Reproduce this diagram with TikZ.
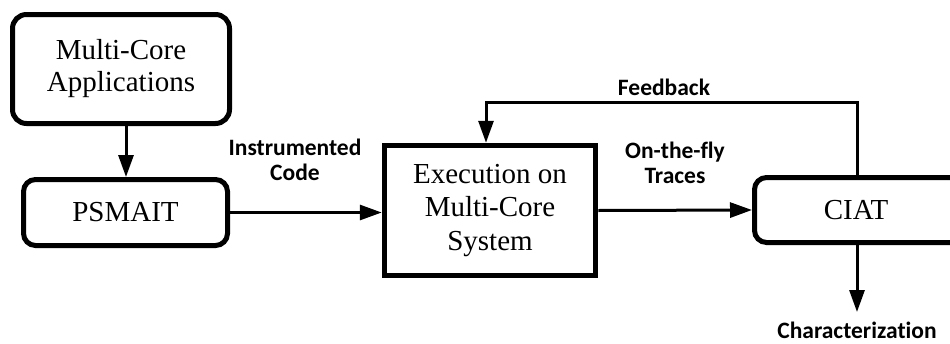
\documentclass[tikz,border=0pt]{standalone}
\usepackage{fontspec}
\setmainfont{Liberation Serif}
\newfontfamily\labelfont[BoldFont={Carlito Bold},Ligatures={NoCommon}]{Carlito}
\usetikzlibrary{arrows.meta}
\begin{document}
\begin{tikzpicture}[x=1pt,y=-1pt,
  roundbox/.style={draw,line width=5pt,rounded corners=14pt,align=center,
    font=\fontsize{29}{32}\selectfont,inner sep=0pt},
  sharpbox/.style={draw,line width=5.5pt,align=center,
    font=\fontsize{29}{33.5}\selectfont,inner sep=0pt},
  arr/.style={line width=3pt,-{Triangle[length=22pt,width=15pt]}},
  lbl/.style={font=\labelfont\bfseries\fontsize{23.5}{25}\selectfont,align=center,inner sep=0pt}]
\useasboundingbox (0,0) rectangle (950,343);
\fill[white] (0,0) rectangle (950,343);

% processing blocks
\node[roundbox,minimum width=217pt,minimum height=109pt] (A) at (121,69) {Multi-Core\\Applications};
\node[roundbox,rounded corners=12pt,minimum width=204pt,minimum height=66pt] (P) at (125.5,212.5) {PSMAIT};
\node[sharpbox,minimum width=211pt,minimum height=130pt] (E) at (490,210.5) {Execution on\\Multi-Core\\System};
% CIAT runs past the right border; its text stays centred at x=856
\node[roundbox,rounded corners=12pt,minimum width=223pt,minimum height=65pt] (C) at (866,210) {CIAT\hspace*{20pt}};

% helper points for the feedback loop and the output arrow
\coordinate (fbR) at (857,102);
\coordinate (fbL) at (486,102);
\coordinate (out) at (857,312);

% data flow
\draw[arr] (A.south -| P.north) ++(0.5,0) coordinate (a1) -- (a1 |- P.north);
\draw[arr] (P.east) -- (E.west |- P.east);
\draw[arr] (E.east) -- (C.west);
\draw[arr] (C.north -| fbR) -- (fbR) -- (fbL) -- (fbL |- E.north);
\draw[arr] (C.south -| out) -- (out);

% connector labels
\node[lbl] (l1) at (295,160) {Instrumented\\Code};
\node[lbl] (l2) at (675,163) {On-the-fly\\Traces};
\node[lbl] (l3) at (664,87) {Feedback};
\node[lbl] (l4) at (857,330) {Characterization};
\end{tikzpicture}
\end{document}
